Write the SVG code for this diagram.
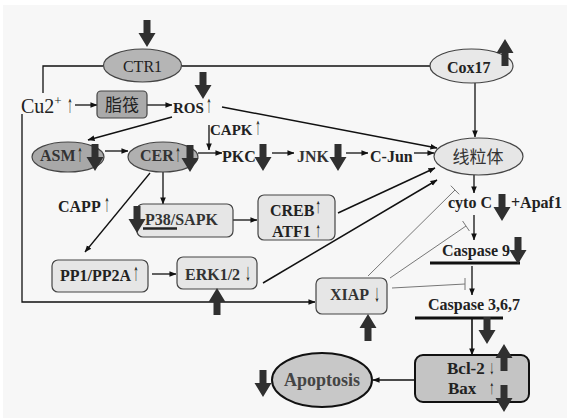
<svg xmlns="http://www.w3.org/2000/svg" xmlns:xlink="http://www.w3.org/1999/xlink" width="567" height="418" viewBox="0 0 567 418">
<defs>
<marker id="ah" viewBox="0 0 8 8" refX="7.5" refY="4" markerWidth="7" markerHeight="7" markerUnits="userSpaceOnUse" orient="auto">
<path d="M0,0.8 L8,4 L0,7.2 Z" fill="#111"/>
</marker>
<path id="bd" d="M-3.5,0 H3.5 V13 H8.5 L0,27 L-8.5,13 H-3.5 Z" fill="#303030"/>
<path id="bu" d="M-3.5,27 H3.5 V14 H8.5 L0,0 L-8.5,14 H-3.5 Z" fill="#303030"/>
<style>
.c{fill:none;stroke:#111;stroke-width:1.3}
.ca{fill:none;stroke:#111;stroke-width:1.3;marker-end:url(#ah)}
.inh{fill:none;stroke:#777;stroke-width:1}
.bar{fill:none;stroke:#111;stroke-width:3}
.n{stroke:#444;stroke-width:1.2}
.t{font-family:"Liberation Serif","Times New Roman",serif;font-size:16px;font-weight:bold;fill:#222}
.r{font-family:"Liberation Serif","Times New Roman",serif;font-size:16px;fill:#222}
.cjk{font-family:"Noto Sans CJK SC","Noto Sans",sans-serif;font-size:17px;fill:#222}
.sa{font-family:"Liberation Serif","DejaVu Serif",serif;font-weight:bold;font-size:16px;fill:#111;text-anchor:middle}
</style>
</defs>
<rect x="0" y="0" width="567" height="418" fill="#ffffff"/>
<rect x="3" y="5" width="564" height="413" fill="#f7f7f7"/>

<g id="connectors">
<path class="c" d="M103,66 H43 V93"/>
<path class="c" d="M182,66 H430"/>
<path class="ca" d="M475,83 V137"/>
<path class="ca" d="M75,105 H97"/>
<path class="ca" d="M147,105 H172"/>
<path class="ca" d="M222,107 L437,148" style="stroke-width:1.5"/>
<path class="ca" d="M172,117 L88,140"/>
<path class="ca" d="M22,114 V302 H315"/>
<path class="ca" d="M105,151 H128"/>
<path class="ca" d="M198,153 H222"/>
<path class="ca" d="M209,125 V150"/>
<path class="ca" d="M272,153 H294"/>
<path class="ca" d="M346,153 H368"/>
<path class="ca" d="M414,153 H434"/>
<path class="ca" d="M163,172 V204"/>
<path class="ca" d="M150,173 L85,252"/>
<path class="ca" d="M233,220 H257"/>
<path class="ca" d="M338,213 L435,168" style="stroke-width:1.5"/>
<path class="ca" d="M263,283 L437,180" style="stroke-width:1.5"/>
<path class="ca" d="M152,274 H176"/>
<path class="ca" d="M474,175 V193"/>
<path class="ca" d="M474,215 V240"/>
<path class="ca" d="M472,266 V295"/>
<path class="ca" d="M472,318 V355" style="stroke-width:1.6"/>
<path class="ca" d="M415,380 H373" style="stroke-width:1.6"/>
<path class="inh" d="M368,276 L455,190 M450.8,185.7 L459.2,194.3"/>
<path class="inh" d="M390,278 L466,226 M462.6,221 L469.4,231"/>
<path class="inh" d="M392,288 L465,284 M465,278 V290"/>
<path class="bar" d="M430,263 H520"/>
<path class="bar" d="M415,318 H503"/>
</g>

<g id="CTR1">
<ellipse class="n" cx="142.5" cy="65.5" rx="39" ry="16.5" fill="#b5b5b5"/>
<text class="r" x="142.5" y="72" text-anchor="middle">CTR1</text>
</g>
<g id="Cox17">
<ellipse class="n" cx="471.5" cy="66" rx="41.5" ry="17" fill="#e8e8e8"/>
<text class="t" x="447" y="73">Cox17</text>
</g>
<g id="Cu2">
<text class="r" x="21" y="113" style="font-size:20px">Cu2<tspan dy="-8" style="font-size:13px">+</tspan></text>
<text class="sa" transform="translate(70,112) scale(0.7,1.5)">↑</text>
</g>
<g id="lipid-raft">
<rect class="n" x="97" y="91" width="50" height="27" rx="4" fill="#aaaaaa"/>
<text class="cjk" x="122" y="111" text-anchor="middle">脂筏</text>
</g>
<g id="ROS">
<text class="t" x="173" y="113" style="font-size:15px">ROS</text>
<text class="sa" transform="translate(209,112) scale(0.7,1.5)">↑</text>
</g>
<g id="ASM">
<ellipse class="n" cx="68" cy="157" rx="36" ry="15" fill="#a8a8a8"/>
<text class="t" x="40" y="161" style="fill:#333">ASM</text>
<text class="sa" transform="translate(80,161) scale(0.7,1.5)">↑</text>
</g>
<g id="CER">
<ellipse class="n" cx="163" cy="157" rx="35" ry="15" fill="#b0b0b0"/>
<text class="t" x="140" y="161" style="fill:#333">CER</text>
<text class="sa" transform="translate(178,161) scale(0.7,1.5)">↑</text>
</g>
<g id="CAPK">
<text class="t" x="210" y="135" style="font-size:15px">CAPK</text>
<text class="sa" transform="translate(258,134) scale(0.7,1.5)">↑</text>
</g>
<g id="PKC"><text class="t" x="222" y="162">PKC</text></g>
<g id="JNK"><text class="t" x="297" y="162" style="fill:#333">JNK</text></g>
<g id="CJun"><text class="t" x="370" y="162">C-Jun</text></g>
<g id="mito">
<ellipse class="n" cx="478.5" cy="156.5" rx="44.5" ry="18.5" fill="#e6e6e6"/>
<text class="cjk" x="478" y="163" text-anchor="middle" style="fill:#333">线粒体</text>
</g>
<g id="cytoC">
<text class="t" x="448" y="208">cyto C</text>
<text class="t" x="511" y="208">+Apaf1</text>
</g>
<g id="casp9"><text class="t" x="442" y="256">Caspase 9</text></g>
<g id="casp367"><text class="t" x="428" y="310">Caspase 3,6,7</text></g>
<g id="CAPP">
<text class="t" x="58" y="212">CAPP</text>
<text class="sa" transform="translate(107,211) scale(0.7,1.5)">↑</text>
</g>
<g id="P38">
<rect class="n" x="137" y="204" width="96" height="33" rx="6" fill="#e6e6e6"/>
<text class="t" x="145" y="225" style="fill:#333">P38/SAPK</text>
<path d="M143,228.5 H177" stroke="#222" stroke-width="2.5"/>
</g>
<g id="CREB">
<rect class="n" x="258" y="195" width="77" height="45" rx="6" fill="#e6e6e6"/>
<text class="t" x="270" y="216">CREB</text>
<text class="sa" transform="translate(318,213) scale(0.7,1.3)">↑</text>
<text class="t" x="272" y="237">ATF1</text>
<text class="sa" transform="translate(318,237) scale(0.7,1.3)">↑</text>
</g>
<g id="PP1">
<rect class="n" x="52" y="260" width="96" height="32" rx="6" fill="#e6e6e6"/>
<text class="t" x="60" y="281">PP1/PP2A</text>
<text class="sa" transform="translate(136,280) scale(0.7,1.5)">↑</text>
</g>
<g id="ERK">
<rect class="n" x="177" y="257" width="80" height="32" rx="6" fill="#e6e6e6"/>
<text class="t" x="185" y="280" style="fill:#333">ERK1/2</text>
<text class="sa" transform="translate(248,280) scale(0.7,1.5)">↓</text>
</g>
<g id="XIAP">
<rect class="n" x="316" y="278" width="71" height="36" rx="6" fill="#e6e6e6"/>
<text class="t" x="330" y="300" style="fill:#333">XIAP</text>
<text class="sa" transform="translate(377,301) scale(0.7,1.5)">↓</text>
</g>
<g id="BclBax">
<rect x="415" y="355" width="114" height="47" rx="8" fill="#c4c4c4" stroke="#111" stroke-width="2"/>
<text class="t" x="447" y="374" style="font-size:17px">Bcl-2</text>
<text class="sa" transform="translate(492,374) scale(0.6,1.2)">↓</text>
<text class="t" x="448" y="394" style="font-size:17px">Bax</text>
<text class="sa" transform="translate(492,394) scale(0.6,1.2)">↑</text>
</g>
<g id="Apoptosis">
<ellipse cx="322" cy="380" rx="50" ry="27" fill="#c8c8c8" stroke="#111" stroke-width="2"/>
<text class="t" x="322" y="386" text-anchor="middle" style="font-size:18px;fill:#444">Apoptosis</text>
</g>

<g id="big-arrows">
<use xlink:href="#bd" x="147" y="20"/>
<use xlink:href="#bd" x="203" y="72"/>
<use xlink:href="#bd" x="95" y="144"/>
<use xlink:href="#bd" x="190" y="145"/>
<use xlink:href="#bd" x="263" y="144"/>
<use xlink:href="#bd" x="338" y="144"/>
<use xlink:href="#bd" x="502" y="194"/>
<use xlink:href="#bd" x="518" y="237"/>
<use xlink:href="#bd" x="487" y="317"/>
<use xlink:href="#bd" x="504" y="385"/>
<use xlink:href="#bd" x="263" y="370"/>
<use xlink:href="#bd" x="137" y="206"/>
<use xlink:href="#bu" x="505" y="39"/>
<use xlink:href="#bu" x="217" y="288"/>
<use xlink:href="#bu" x="368" y="314"/>
<use xlink:href="#bu" x="504" y="344"/>
</g>
</svg>
